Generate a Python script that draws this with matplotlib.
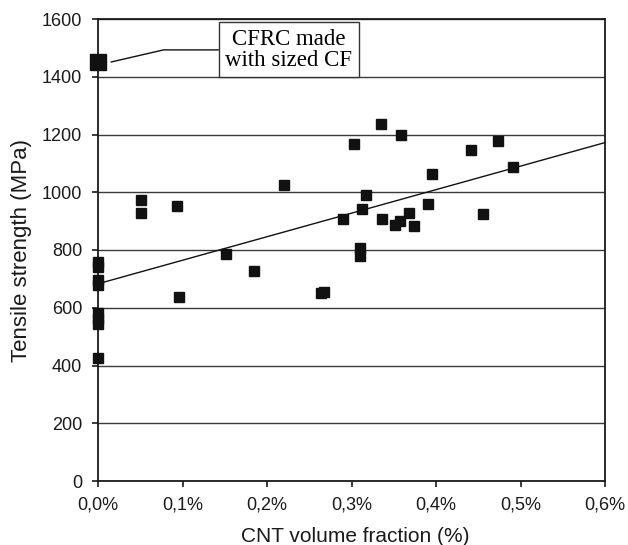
import numpy as np
import matplotlib
matplotlib.use("Agg")
import matplotlib.pyplot as plt
from matplotlib.ticker import FuncFormatter

plt.rcParams['font.family'] = ['Liberation Sans', 'DejaVu Sans']

# CNT volume fraction (%) and tensile strength (MPa)
cnt_frac = [0.0, 0.0, 0.0, 0.0, 0.0, 0.0, 0.0, 0.0,
            0.051, 0.051, 0.093, 0.096, 0.152, 0.185, 0.220,
            0.264, 0.267, 0.290, 0.303, 0.310, 0.310, 0.313, 0.317,
            0.335, 0.336, 0.351, 0.357, 0.359, 0.368, 0.374, 0.390,
            0.395, 0.441, 0.456, 0.473, 0.491]
strength = [759, 742, 696, 679, 581, 560, 543, 425,
            973, 927, 952, 638, 785, 727, 1025,
            650, 654, 907, 1166, 806, 779, 942, 990,
            1235, 906, 885, 899, 1197, 929, 882, 959,
            1062, 1147, 925, 1177, 1088]

sized_cf_frac = [0.0]
sized_cf_strength = [1451]

# linear trend line
trend_intercept = 683
trend_slope = 815  # MPa per 1 % CNT
trend_x = [0.0, 0.6]

x_ticks = [0.0, 0.1, 0.2, 0.3, 0.4, 0.5, 0.6]
y_ticks = [0, 200, 400, 600, 800, 1000, 1200, 1400, 1600]

fig = plt.figure(figsize=(6.28, 5.45), dpi=100)
ax = fig.add_axes([98/628, 1-481/545, (605-98)/628, (481-19)/545])

ax.set_xlim(0, 0.6)
ax.set_ylim(0, 1600)
ax.set_yticks(y_ticks)
ax.set_xticks(x_ticks)
ax.xaxis.set_major_formatter(FuncFormatter(lambda v, p: f"{v:.1f}%".replace('.', ',')))
ax.grid(axis='y', color='#3a3a3a', linewidth=1.0)
ax.set_axisbelow(True)
for s in ax.spines.values():
    s.set_color('#1a1a1a')
    s.set_linewidth(1.3)
ax.tick_params(axis='both', direction='out', length=4.5, width=1.2, color='#1a1a1a',
               labelsize=13, labelcolor='#1a1a1a')
ax.tick_params(axis='x', pad=7)
ax.tick_params(axis='y', pad=7)

tx = np.array(trend_x)
ax.plot(tx, trend_intercept + trend_slope * tx, color='#111111', linewidth=1.0, zorder=3)

ax.plot(cnt_frac, strength, linestyle='none', marker='s', markersize=7.2,
        color='#111111', zorder=4, clip_on=False)
ax.plot(sized_cf_frac, sized_cf_strength, linestyle='none', marker='s', markersize=12,
        color='#111111', zorder=4, clip_on=False)

ax.annotate("CFRC made\nwith sized CF", xy=(0.0154, 1451), xytext=(0.226, 1493),
            fontsize=16.5, family='Liberation Serif', va='center', ha='center',
            linespacing=1.0,
            bbox=dict(boxstyle='square,pad=0.28', fc='white', ec='#333333', lw=1.0),
            arrowprops=dict(arrowstyle='-', color='#111111', lw=1.0,
                            connectionstyle='angle,angleA=0,angleB=13,rad=0',
                            shrinkA=0, shrinkB=0),
            zorder=5)

ax.set_xlabel("CNT volume fraction (%)", fontsize=15, color='#1a1a1a', va='baseline')
ax.xaxis.set_label_coords(0.508, (481-542)/462)
ax.set_ylabel("Tensile strength (MPa)", fontsize=16, color='#1a1a1a', va='baseline')
ax.yaxis.set_label_coords((26.7-98)/507, 0.5)

fig.savefig("out.png", dpi=100)
